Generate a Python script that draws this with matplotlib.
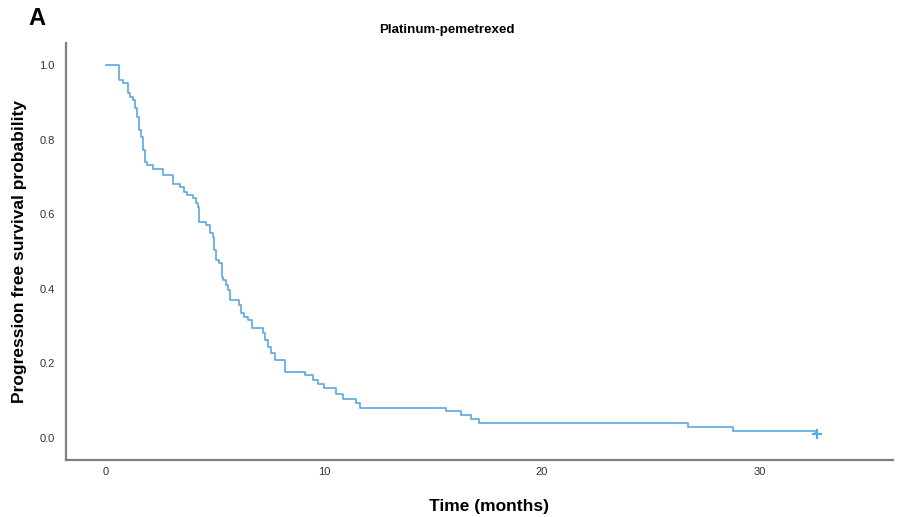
import matplotlib.pyplot as plt

plt.rcParams['font.family'] = ['Liberation Sans', 'DejaVu Sans']

# Kaplan-Meier step data (time in months, survival after the drop)
times = [0.0, 0.62, 0.79, 1.00, 1.10, 1.22, 1.33, 1.42, 1.51, 1.61, 1.68, 1.79, 1.89,
         2.17, 2.64, 3.09, 3.39, 3.58, 3.73, 4.00, 4.11, 4.23, 4.29, 4.60, 4.77, 4.89,
         4.95, 5.05, 5.18, 5.31, 5.38, 5.50, 5.61, 5.69, 6.08, 6.19, 6.33, 6.53, 6.72,
         7.18, 7.29, 7.43, 7.57, 7.75, 8.23, 9.13, 9.50, 9.74, 10.01, 10.57, 10.86,
         11.47, 11.64, 15.60, 16.30, 16.72, 17.11, 26.67, 28.75, 32.50, 32.60]
surv = [1.0, 0.960, 0.952, 0.925, 0.915, 0.906, 0.885, 0.861, 0.826, 0.807, 0.772, 0.741, 0.732,
        0.720, 0.705, 0.681, 0.674, 0.660, 0.651, 0.643, 0.629, 0.620, 0.580, 0.571, 0.549, 0.540,
        0.504, 0.477, 0.468, 0.432, 0.424, 0.410, 0.397, 0.370, 0.357, 0.334, 0.325, 0.316, 0.294,
        0.282, 0.263, 0.244, 0.228, 0.209, 0.178, 0.168, 0.155, 0.146, 0.135, 0.118, 0.104,
        0.093, 0.081, 0.072, 0.062, 0.050, 0.040, 0.029, 0.018, 0.010, 0.010]
censor_t = [32.6]
censor_s = [0.010]

xticks = [0, 10, 20, 30]
yticks = [0.0, 0.2, 0.4, 0.6, 0.8, 1.0]

fig = plt.figure(figsize=(9.08, 5.17), dpi=100)
ax = fig.add_axes([0.0727, 0.1103, 0.911, 0.8065])

color = '#5aa8e0'
ax.step(times, surv, where='post', color=color, linewidth=1.2)
ax.plot(censor_t, censor_s, marker='+', color=color, markersize=7, mew=1.5, linestyle='none')

ax.set_xlim(-1.83, 36.1)
ax.set_ylim(-0.059, 1.059)
ax.set_xticks(xticks)
ax.set_yticks(yticks)
ax.set_yticklabels(['%.1f' % v for v in yticks])
ax.tick_params(length=0, labelsize=8, colors='#333333')
ax.tick_params(axis='y', pad=8)
ax.tick_params(axis='x', pad=5)

for s in ['top', 'right']:
    ax.spines[s].set_visible(False)
for s in ['left', 'bottom']:
    ax.spines[s].set_color('#7f7f7f')
    ax.spines[s].set_linewidth(1.6)

fig.text(0.492, 0.942, 'Platinum-pemetrexed', fontsize=9.6, fontweight='bold',
         ha='center', va='center')
ax.set_xlabel('Time (months)', fontsize=12.5, fontweight='bold')
ax.xaxis.set_label_coords(0.511, -0.093)
ax.set_ylabel('Progression free survival probability', fontsize=12.5, fontweight='bold', labelpad=9)

fig.text(0.031, 0.965, 'A', fontsize=17, fontweight='bold', va='center')

fig.savefig('out.png', dpi=100)
